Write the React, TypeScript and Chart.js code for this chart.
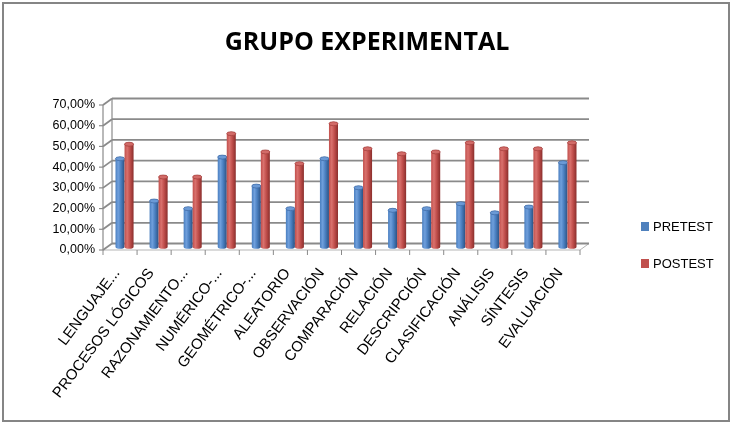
import { useEffect, useRef } from "react";
import { Chart, registerables } from "chart.js";

Chart.register(...registerables);

const chartTitle = "GRUPO EXPERIMENTAL";
const categories = [
  "LENGUAJE...",
  "PROCESOS LÓGICOS",
  "RAZONAMIENTO...",
  "NUMÉRICO-...",
  "GEOMÉTRICO-...",
  "ALEATORIO",
  "OBSERVACIÓN",
  "COMPARACIÓN",
  "RELACIÓN",
  "DESCRIPCIÓN",
  "CLASIFICACIÓN",
  "ANÁLISIS",
  "SÍNTESIS",
  "EVALUACIÓN",
];
const pretest = [42.5, 22.1, 18.4, 43.3, 29.3, 18.4, 42.5, 28.5, 17.6, 18.4, 20.8, 16.4, 19.2, 40.6];
const postest = [49.5, 33.7, 33.7, 54.6, 45.8, 40.1, 59.4, 47.3, 44.9, 45.8, 50.2, 47.3, 47.3, 50.2];
const seriesNames = ["PRETEST", "POSTEST"];
const seriesColors = ["#4F81BD", "#C0504D"];
const yMin = 0;
const yMax = 70;
const yStep = 10;

const DX = 9;
const DY = 6.5;
const SANS = "'Liberation Sans', Arial, sans-serif";

const shades: Record<string, { dark: string; light: string; mid: string; top: string; edge: string }> = {
  "#4F81BD": { dark: "#2c5283", light: "#6f9fdc", mid: "#4a7fc0", top: "#6b9ad6", edge: "#35609a" },
  "#C0504D": { dark: "#8a2e2c", light: "#d9716d", mid: "#c14f4c", top: "#d26b68", edge: "#9a3532" },
};

function line(ctx: CanvasRenderingContext2D, x1: number, y1: number, x2: number, y2: number) {
  ctx.beginPath();
  ctx.moveTo(x1, y1);
  ctx.lineTo(x2, y2);
  ctx.stroke();
}

const threeDPlugin = {
  id: "threeD",
  beforeDraw(chart: any) {
    const ctx: CanvasRenderingContext2D = chart.ctx;
    ctx.save();
    ctx.fillStyle = "#ffffff";
    ctx.fillRect(0, 0, chart.width, chart.height);
    ctx.strokeStyle = "#858585";
    ctx.lineWidth = 2;
    ctx.strokeRect(3, 3, chart.width - 8, chart.height - 9);
    ctx.fillStyle = "#000";
    ctx.font = "bold 25px 'Open Sans', sans-serif";
    ctx.textAlign = "center";
    ctx.textBaseline = "alphabetic";
    ctx.fillText(chartTitle, 367, 50);
    ctx.restore();
  },
  beforeDatasetsDraw(chart: any) {
    const ctx: CanvasRenderingContext2D = chart.ctx;
    const a = chart.chartArea;
    const y = chart.scales.y;
    const x = chart.scales.x;
    ctx.save();
    // floor
    ctx.strokeStyle = "#b5b5b5";
    ctx.lineWidth = 1;
    line(ctx, a.left, a.bottom, a.right, a.bottom);
    line(ctx, a.right, a.bottom, a.right + DX, a.bottom - DY);
    // back wall grid + left wall
    ctx.strokeStyle = "#8a8a8a";
    ctx.lineWidth = 1.8;
    y.ticks.forEach((t: any) => {
      const py = y.getPixelForValue(t.value);
      line(ctx, a.left + DX, py - DY, a.right + DX, py - DY);
      line(ctx, a.left, py, a.left + DX, py - DY);
    });
    ctx.lineWidth = 1.2;
    ctx.strokeStyle = "#8a8a8a";
    line(ctx, a.left, a.top, a.left, a.bottom);
    line(ctx, a.left + DX, a.top - DY, a.left + DX, a.bottom - DY);
    y.ticks.forEach((t: any) => {
      const py = y.getPixelForValue(t.value);
      line(ctx, a.left - 4, py, a.left, py);
    });
    // category tick marks
    ctx.strokeStyle = "#8a8a8a";
    ctx.lineWidth = 1;
    const n = chart.data.labels.length;
    const half = (x.getPixelForValue(1) - x.getPixelForValue(0)) / 2;
    for (let i = 0; i <= n; i++) {
      const px = x.getPixelForValue(Math.min(i, n - 1)) + (i === n ? half : -half);
      line(ctx, px, a.bottom, px, a.bottom + 5);
    }
    ctx.restore();
  },
  afterDatasetsDraw(chart: any) {
    const ctx: CanvasRenderingContext2D = chart.ctx;
    ctx.save();
    chart.data.datasets.forEach((ds: any, di: number) => {
      const meta = chart.getDatasetMeta(di);
      const s = shades[ds.baseColor];
      meta.data.forEach((bar: any) => {
        const p = bar.getProps(["x", "y", "base", "width"], true);
        const cx = p.x + DX / 2;
        const top = p.y - DY / 2;
        const bottom = p.base - DY / 2;
        const rx = p.width / 2;
        const ry = 2;
        const g = ctx.createLinearGradient(cx - rx, 0, cx + rx, 0);
        g.addColorStop(0, s.mid);
        g.addColorStop(0.3, s.light);
        g.addColorStop(0.6, s.mid);
        g.addColorStop(1, s.dark);
        ctx.beginPath();
        ctx.moveTo(cx - rx, top);
        ctx.lineTo(cx - rx, bottom);
        ctx.ellipse(cx, bottom, rx, ry, 0, Math.PI, 0, true);
        ctx.lineTo(cx + rx, top);
        ctx.ellipse(cx, top, rx, ry, 0, 0, Math.PI, true);
        ctx.closePath();
        ctx.fillStyle = g;
        ctx.fill();
        ctx.beginPath();
        ctx.ellipse(cx, top, rx, ry, 0, 0, Math.PI * 2);
        ctx.fillStyle = s.top;
        ctx.fill();
        ctx.strokeStyle = s.edge;
        ctx.lineWidth = 0.6;
        ctx.stroke();
      });
    });
    ctx.restore();
  },
  afterDraw(chart: any) {
    const ctx: CanvasRenderingContext2D = chart.ctx;
    ctx.save();
    ctx.font = `13px ${SANS}`;
    ctx.textAlign = "left";
    ctx.textBaseline = "middle";
    chart.data.datasets.forEach((ds: any, i: number) => {
      const cy = 226.5 + i * 37;
      ctx.fillStyle = ds.baseColor;
      ctx.fillRect(641, cy - 4.5, 8, 9);
      ctx.fillStyle = "#000";
      ctx.fillText(ds.label, 653, cy + 0.5);
    });
    ctx.restore();
  },
};

export default function App() {
  const ref = useRef<HTMLCanvasElement | null>(null);
  useEffect(() => {
    document.body.style.margin = "0";
    if (!ref.current) return;
    const chart = new Chart(ref.current, {
      type: "bar",
      data: {
        labels: categories,
        datasets: [
          { label: seriesNames[0], data: pretest, backgroundColor: "rgba(0,0,0,0)", baseColor: seriesColors[0] } as any,
          { label: seriesNames[1], data: postest, backgroundColor: "rgba(0,0,0,0)", baseColor: seriesColors[1] } as any,
        ],
      },
      options: {
        animation: false,
        responsive: true,
        maintainAspectRatio: false,
        events: [],
        layout: { padding: { left: 8, right: 154, top: 105, bottom: 7 } },
        plugins: { legend: { display: false }, title: { display: false }, tooltip: { enabled: false } },
        datasets: { bar: { categoryPercentage: 0.53, barPercentage: 1 } },
        scales: {
          x: {
            grid: { display: false, drawTicks: false },
            border: { display: false },
            ticks: {
              autoSkip: false,
              maxRotation: 53,
              minRotation: 53,
              color: "#000",
              padding: 15,
              labelOffset: -3,
              font: { family: SANS, size: 15 },
            },
            afterFit(s: any) {
              s.height = 170;
            },
          },
          y: {
            min: yMin,
            max: yMax,
            grid: { display: false, drawTicks: false },
            border: { display: false },
            ticks: {
              stepSize: yStep,
              color: "#000",
              padding: 8,
              font: { family: SANS, size: 12.5 },
              callback: (v: any) => Number(v).toFixed(2).replace(".", ",") + "%",
            },
            afterFit(s: any) {
              s.width = 95;
            },
          },
        },
      },
      plugins: [threeDPlugin],
    });
    return () => chart.destroy();
  }, []);
  return (
    <div style={{ position: "relative", width: 734, height: 427 }}>
      <canvas ref={ref} />
    </div>
  );
}
